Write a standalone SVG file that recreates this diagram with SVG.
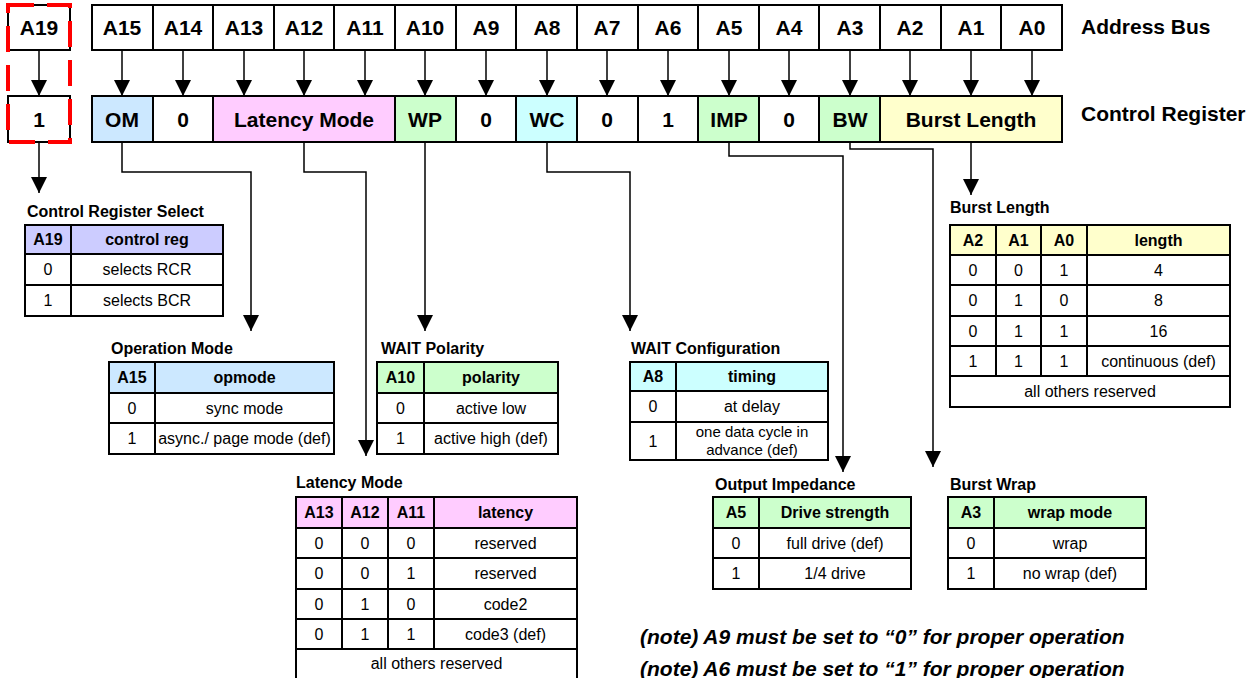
<svg xmlns="http://www.w3.org/2000/svg" width="1258" height="678" viewBox="0 0 1258 678">
<defs>
<marker id="ah" markerUnits="userSpaceOnUse" markerWidth="16" markerHeight="16" refX="16" refY="8" orient="auto" viewBox="0 0 16 16">
<path d="M0,0 L16,8 L0,16 z" fill="#000"/>
</marker>
<style>
text{font-family:"Liberation Sans",Arial,Helvetica,sans-serif;fill:#000}
.cell{stroke:#000;stroke-width:2}
.w{fill:#fff}
.rt{font-weight:bold;font-size:21px;text-anchor:middle}
.lab{font-weight:bold;font-size:21px}
.ti{font-weight:bold;font-size:16px}
.h{font-weight:bold;font-size:16px;text-anchor:middle}
.b{font-size:16px;text-anchor:middle}
.grid{fill:none;stroke:#000;stroke-width:2}
.conn{fill:none;stroke:#000;stroke-width:1.5;marker-end:url(#ah)}
.note{font-weight:bold;font-style:italic;font-size:21px}
</style>
</defs>
<rect width="1258" height="678" fill="#fff"/>

<g id="connectors">
<path class="conn" d="M39 50V96"/>
<path class="conn" d="M122 50V96"/>
<path class="conn" d="M183 50V96"/>
<path class="conn" d="M244 50V96"/>
<path class="conn" d="M304 50V96"/>
<path class="conn" d="M365 50V96"/>
<path class="conn" d="M425 50V96"/>
<path class="conn" d="M486 50V96"/>
<path class="conn" d="M547 50V96"/>
<path class="conn" d="M607 50V96"/>
<path class="conn" d="M668 50V96"/>
<path class="conn" d="M729 50V96"/>
<path class="conn" d="M789 50V96"/>
<path class="conn" d="M850 50V96"/>
<path class="conn" d="M910 50V96"/>
<path class="conn" d="M971 50V96"/>
<path class="conn" d="M1032 50V96"/>
<path class="conn" d="M39 142V193"/>
<path class="conn" d="M122 142V172H251V331"/>
<path class="conn" d="M304 142V172H366V456"/>
<path class="conn" d="M425 142V331"/>
<path class="conn" d="M547 142V172H630V331"/>
<path class="conn" d="M729 142V156H843V472"/>
<path class="conn" d="M850 142V149H933V467"/>
<path class="conn" d="M971 142V195"/>
</g>

<g id="address-bus">
<rect class="cell w" x="8" y="5" width="62" height="45"/>
<text class="rt" x="39" y="35">A19</text>
<rect class="cell w" x="92" y="5" width="970" height="45"/>
<path class="grid" d="M153 5V50M213 5V50M274 5V50M334 5V50M395 5V50M456 5V50M516 5V50M577 5V50M638 5V50M698 5V50M759 5V50M819 5V50M880 5V50M941 5V50M1001 5V50"/>
<text class="rt" x="122" y="35">A15</text>
<text class="rt" x="183" y="35">A14</text>
<text class="rt" x="244" y="35">A13</text>
<text class="rt" x="304" y="35">A12</text>
<text class="rt" x="365" y="35">A11</text>
<text class="rt" x="425" y="35">A10</text>
<text class="rt" x="486" y="35">A9</text>
<text class="rt" x="547" y="35">A8</text>
<text class="rt" x="607" y="35">A7</text>
<text class="rt" x="668" y="35">A6</text>
<text class="rt" x="729" y="35">A5</text>
<text class="rt" x="789" y="35">A4</text>
<text class="rt" x="850" y="35">A3</text>
<text class="rt" x="910" y="35">A2</text>
<text class="rt" x="971" y="35">A1</text>
<text class="rt" x="1032" y="35">A0</text>
<text class="lab" x="1081" y="34">Address Bus</text>
</g>

<g id="control-register">
<rect class="cell w" x="8" y="96" width="62" height="46"/>
<text class="rt" x="39" y="127">1</text>
<rect class="cell" x="92" y="96" width="61" height="46" fill="#CCE8FF"/>
<rect class="cell w" x="153" y="96" width="60" height="46"/>
<rect class="cell" x="213" y="96" width="182" height="46" fill="#FFCCFF"/>
<rect class="cell" x="395" y="96" width="61" height="46" fill="#CCFFCC"/>
<rect class="cell w" x="456" y="96" width="60" height="46"/>
<rect class="cell" x="516" y="96" width="61" height="46" fill="#CCFFFF"/>
<rect class="cell w" x="577" y="96" width="61" height="46"/>
<rect class="cell w" x="638" y="96" width="60" height="46"/>
<rect class="cell" x="698" y="96" width="61" height="46" fill="#CCFFCC"/>
<rect class="cell w" x="759" y="96" width="60" height="46"/>
<rect class="cell" x="819" y="96" width="61" height="46" fill="#CCFFCC"/>
<rect class="cell" x="880" y="96" width="182" height="46" fill="#FFFFCC"/>
<text class="rt" x="122" y="127">OM</text>
<text class="rt" x="183" y="127">0</text>
<text class="rt" x="304" y="127">Latency Mode</text>
<text class="rt" x="425" y="127">WP</text>
<text class="rt" x="486" y="127">0</text>
<text class="rt" x="547" y="127">WC</text>
<text class="rt" x="607" y="127">0</text>
<text class="rt" x="668" y="127">1</text>
<text class="rt" x="729" y="127">IMP</text>
<text class="rt" x="789" y="127">0</text>
<text class="rt" x="850" y="127">BW</text>
<text class="rt" x="971" y="127">Burst Length</text>
<text class="lab" x="1081" y="121">Control Register</text>
</g>

<g id="a19-highlight">
<rect x="8" y="5" width="62" height="137" fill="none" stroke="#FF0000" stroke-width="4" stroke-dasharray="26 13"/>
</g>

<g id="control-register-select">
<text class="ti" x="27" y="217">Control Register Select</text>
<rect x="25" y="225" width="198" height="29" fill="#CCCCFF"/>
<rect class="grid" x="25" y="225" width="198" height="91"/>
<path class="grid" d="M25 254H223M25 285H223M71 225V316"/>
<text class="h" x="48" y="245">A19</text>
<text class="h" x="147" y="245">control reg</text>
<text class="b" x="48" y="275">0</text>
<text class="b" x="147" y="275">selects RCR</text>
<text class="b" x="48" y="306">1</text>
<text class="b" x="147" y="306">selects BCR</text>
</g>

<g id="operation-mode">
<text class="ti" x="111" y="354">Operation Mode</text>
<rect x="109" y="362" width="225" height="31" fill="#CCE8FF"/>
<rect class="grid" x="109" y="362" width="225" height="92"/>
<path class="grid" d="M109 393H334M109 423H334M155 362V454"/>
<text class="h" x="132" y="383">A15</text>
<text class="h" x="244.5" y="383">opmode</text>
<text class="b" x="132" y="414">0</text>
<text class="b" x="244.5" y="414">sync mode</text>
<text class="b" x="132" y="444">1</text>
<text class="b" x="244.5" y="444">async./ page mode (def)</text>
</g>

<g id="wait-polarity">
<text class="ti" x="381" y="354">WAIT Polarity</text>
<rect x="377" y="362" width="181" height="31" fill="#CCFFCC"/>
<rect class="grid" x="377" y="362" width="181" height="92"/>
<path class="grid" d="M377 393H558M377 423H558M424 362V454"/>
<text class="h" x="400.5" y="383">A10</text>
<text class="h" x="491" y="383">polarity</text>
<text class="b" x="400.5" y="414">0</text>
<text class="b" x="491" y="414">active low</text>
<text class="b" x="400.5" y="444">1</text>
<text class="b" x="491" y="444">active high (def)</text>
</g>

<g id="wait-configuration">
<text class="ti" x="631" y="354">WAIT Configuration</text>
<rect x="630" y="362" width="198" height="29" fill="#CCFFFF"/>
<rect class="grid" x="630" y="362" width="198" height="98"/>
<path class="grid" d="M630 391H828M630 422H828M676 362V460"/>
<text class="h" x="653" y="382">A8</text>
<text class="h" x="752" y="382">timing</text>
<text class="b" x="653" y="412">0</text>
<text class="b" x="752" y="412">at delay</text>
<text class="b" x="653" y="447">1</text>
<text class="b" x="752" y="437" style="font-size:15px">one data cycle in</text>
<text class="b" x="752" y="455" style="font-size:15px">advance (def)</text>
</g>

<g id="latency-mode">
<text class="ti" x="296" y="488">Latency Mode</text>
<rect x="296" y="497" width="281" height="31" fill="#FFCCFF"/>
<rect class="grid" x="296" y="497" width="281" height="183"/>
<path class="grid" d="M296 528H577M296 558H577M296 589H577M296 619H577M296 649H577M342 497V649M388 497V649M434 497V649"/>
<text class="h" x="319" y="518">A13</text>
<text class="h" x="365" y="518">A12</text>
<text class="h" x="411" y="518">A11</text>
<text class="h" x="505.5" y="518">latency</text>
<text class="b" x="319" y="549">0</text><text class="b" x="365" y="549">0</text><text class="b" x="411" y="549">0</text><text class="b" x="505.5" y="549">reserved</text>
<text class="b" x="319" y="579">0</text><text class="b" x="365" y="579">0</text><text class="b" x="411" y="579">1</text><text class="b" x="505.5" y="579">reserved</text>
<text class="b" x="319" y="610">0</text><text class="b" x="365" y="610">1</text><text class="b" x="411" y="610">0</text><text class="b" x="505.5" y="610">code2</text>
<text class="b" x="319" y="640">0</text><text class="b" x="365" y="640">1</text><text class="b" x="411" y="640">1</text><text class="b" x="505.5" y="640">code3 (def)</text>
<text class="b" x="436.5" y="669">all others reserved</text>
</g>

<g id="burst-length">
<text class="ti" x="950" y="213">Burst Length</text>
<rect x="950" y="225" width="280" height="30" fill="#FFFFCC"/>
<rect class="grid" x="950" y="225" width="280" height="182"/>
<path class="grid" d="M950 255H1230M950 285H1230M950 316H1230M950 346H1230M950 376H1230M996 225V376M1041 225V376M1087 225V376"/>
<text class="h" x="973" y="246">A2</text>
<text class="h" x="1018.5" y="246">A1</text>
<text class="h" x="1064" y="246">A0</text>
<text class="h" x="1158.5" y="246">length</text>
<text class="b" x="973" y="276">0</text><text class="b" x="1018.5" y="276">0</text><text class="b" x="1064" y="276">1</text><text class="b" x="1158.5" y="276">4</text>
<text class="b" x="973" y="306">0</text><text class="b" x="1018.5" y="306">1</text><text class="b" x="1064" y="306">0</text><text class="b" x="1158.5" y="306">8</text>
<text class="b" x="973" y="337">0</text><text class="b" x="1018.5" y="337">1</text><text class="b" x="1064" y="337">1</text><text class="b" x="1158.5" y="337">16</text>
<text class="b" x="973" y="367">1</text><text class="b" x="1018.5" y="367">1</text><text class="b" x="1064" y="367">1</text><text class="b" x="1158.5" y="367">continuous (def)</text>
<text class="b" x="1090" y="397">all others reserved</text>
</g>

<g id="output-impedance">
<text class="ti" x="715" y="490">Output Impedance</text>
<rect x="713" y="497" width="198" height="31" fill="#CCFFCC"/>
<rect class="grid" x="713" y="497" width="198" height="92"/>
<path class="grid" d="M713 528H911M713 558H911M759 497V589"/>
<text class="h" x="736" y="518">A5</text>
<text class="h" x="835" y="518">Drive strength</text>
<text class="b" x="736" y="549">0</text>
<text class="b" x="835" y="549">full drive (def)</text>
<text class="b" x="736" y="579">1</text>
<text class="b" x="835" y="579">1/4 drive</text>
</g>

<g id="burst-wrap">
<text class="ti" x="950" y="490">Burst Wrap</text>
<rect x="948" y="497" width="198" height="31" fill="#CCFFCC"/>
<rect class="grid" x="948" y="497" width="198" height="92"/>
<path class="grid" d="M948 528H1146M948 558H1146M994 497V589"/>
<text class="h" x="971" y="518">A3</text>
<text class="h" x="1070" y="518">wrap mode</text>
<text class="b" x="971" y="549">0</text>
<text class="b" x="1070" y="549">wrap</text>
<text class="b" x="971" y="579">1</text>
<text class="b" x="1070" y="579">no wrap (def)</text>
</g>

<g id="notes">
<text class="note" x="640" y="644">(note) A9 must be set to “0” for proper operation</text>
<text class="note" x="640" y="676">(note) A6 must be set to “1” for proper operation</text>
</g>
</svg>
